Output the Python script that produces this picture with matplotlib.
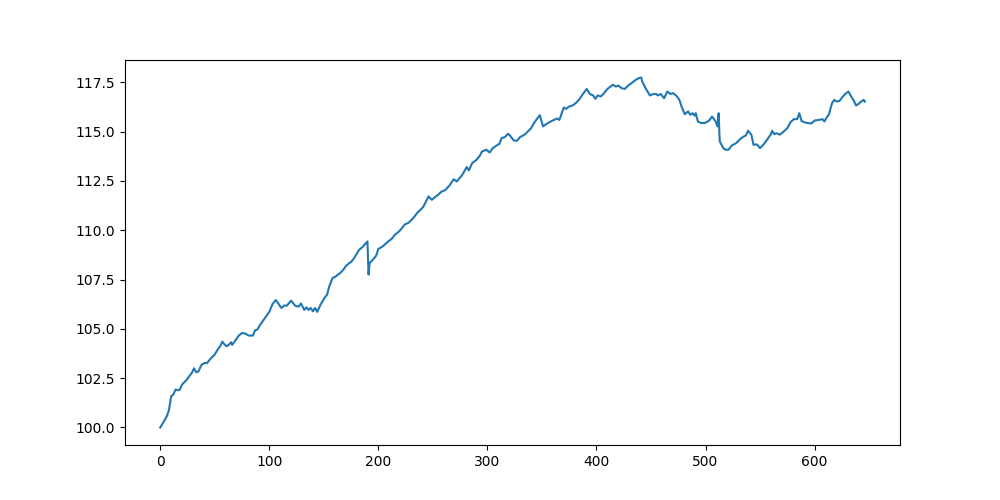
import matplotlib
matplotlib.use("Agg")
import matplotlib.pyplot as plt

steps = [0, 3, 6, 8, 10, 12, 14, 16, 18, 20, 24, 27, 29, 31, 33, 35, 38, 41, 43, 46,
         50, 53, 55, 57, 59, 61, 63, 65, 66, 69, 72, 75, 78, 81, 85, 87, 89, 91, 96, 100,
         103, 106, 108, 111, 114, 116, 120, 122, 124, 127, 129, 132, 134, 136, 138, 140, 142, 144, 147, 151,
         153, 155, 158, 160, 162, 165, 168, 170, 173, 175, 178, 182, 186, 190, 191, 192, 195, 198, 200, 204,
         209, 212, 215, 219, 221, 224, 228, 232, 236, 238, 241, 243, 246, 249, 252, 255, 258, 261, 265, 269,
         272, 277, 281, 283, 286, 290, 293, 295, 299, 302, 305, 308, 311, 313, 316, 319, 321, 324, 327, 330,
         334, 337, 340, 343, 346, 348, 351, 354, 358, 361, 364, 366, 370, 372, 375, 378, 381, 384, 387, 391,
         394, 397, 399, 401, 404, 407, 410, 415, 418, 420, 423, 426, 429, 432, 436, 439, 441, 442, 445, 449,
         452, 455, 456, 459, 462, 465, 468, 470, 473, 476, 478, 481, 484, 486, 488, 490, 491, 493, 496, 499,
         503, 506, 509, 511, 512, 513, 516, 518, 521, 524, 528, 532, 535, 537, 539, 542, 544, 547, 550, 553,
         557, 560, 561, 563, 565, 568, 571, 575, 578, 581, 584, 586, 588, 591, 594, 597, 600, 604, 607, 609,
         611, 613, 616, 618, 620, 623, 625, 628, 631, 633, 636, 638, 640, 642, 645, 646]

values = [100.00, 100.27, 100.57, 100.88, 101.58, 101.67, 101.92, 101.89, 101.92, 102.18,
          102.40, 102.63, 102.77, 103.00, 102.80, 102.84, 103.19, 103.27, 103.27, 103.48,
          103.70, 103.98, 104.12, 104.35, 104.20, 104.12, 104.20, 104.32, 104.19, 104.42,
          104.66, 104.79, 104.76, 104.66, 104.66, 104.93, 104.96, 105.15, 105.55, 105.86,
          106.26, 106.46, 106.31, 106.06, 106.19, 106.17, 106.43, 106.29, 106.16, 106.13,
          106.29, 105.96, 106.09, 105.96, 106.06, 105.89, 106.06, 105.86, 106.23, 106.60,
          106.73, 107.15, 107.58, 107.62, 107.71, 107.83, 108.00, 108.17, 108.32, 108.39,
          108.60, 108.98, 109.18, 109.43, 107.75, 108.34, 108.51, 108.71, 109.05, 109.18,
          109.43, 109.55, 109.76, 109.94, 110.06, 110.28, 110.39, 110.62, 110.90, 111.00,
          111.17, 111.38, 111.71, 111.54, 111.68, 111.80, 111.96, 112.02, 112.25, 112.58,
          112.47, 112.81, 113.20, 113.03, 113.40, 113.57, 113.77, 113.99, 114.08, 113.94,
          114.16, 114.28, 114.38, 114.67, 114.72, 114.89, 114.78, 114.55, 114.53, 114.72,
          114.84, 115.00, 115.17, 115.46, 115.68, 115.83, 115.26, 115.38, 115.51, 115.59,
          115.66, 115.59, 116.22, 116.15, 116.27, 116.32, 116.44, 116.61, 116.86, 117.16,
          116.90, 116.83, 116.66, 116.83, 116.78, 116.95, 117.16, 117.37, 117.28, 117.33,
          117.20, 117.16, 117.33, 117.45, 117.62, 117.71, 117.74, 117.53, 117.20, 116.83,
          116.90, 116.90, 116.83, 116.90, 116.69, 117.03, 116.90, 116.95, 116.83, 116.61,
          116.27, 115.88, 116.02, 115.85, 115.93, 115.81, 115.93, 115.51, 115.43, 115.43,
          115.54, 115.76, 115.54, 115.26, 115.93, 114.50, 114.19, 114.08, 114.08, 114.29,
          114.41, 114.63, 114.75, 114.80, 115.04, 114.84, 114.33, 114.35, 114.16, 114.33,
          114.63, 114.87, 115.04, 114.87, 114.92, 114.84, 114.97, 115.17, 115.48, 115.63,
          115.63, 115.93, 115.54, 115.46, 115.43, 115.41, 115.56, 115.59, 115.63, 115.51,
          115.71, 115.85, 116.44, 116.61, 116.52, 116.56, 116.72, 116.90, 117.03, 116.83,
          116.56, 116.32, 116.39, 116.49, 116.61, 116.52]

fig, ax = plt.subplots(figsize=(10, 5), dpi=100)
ax.plot(steps, values, color="#1f77b4", linewidth=1.5)
fig.savefig("out.png", dpi=100)
